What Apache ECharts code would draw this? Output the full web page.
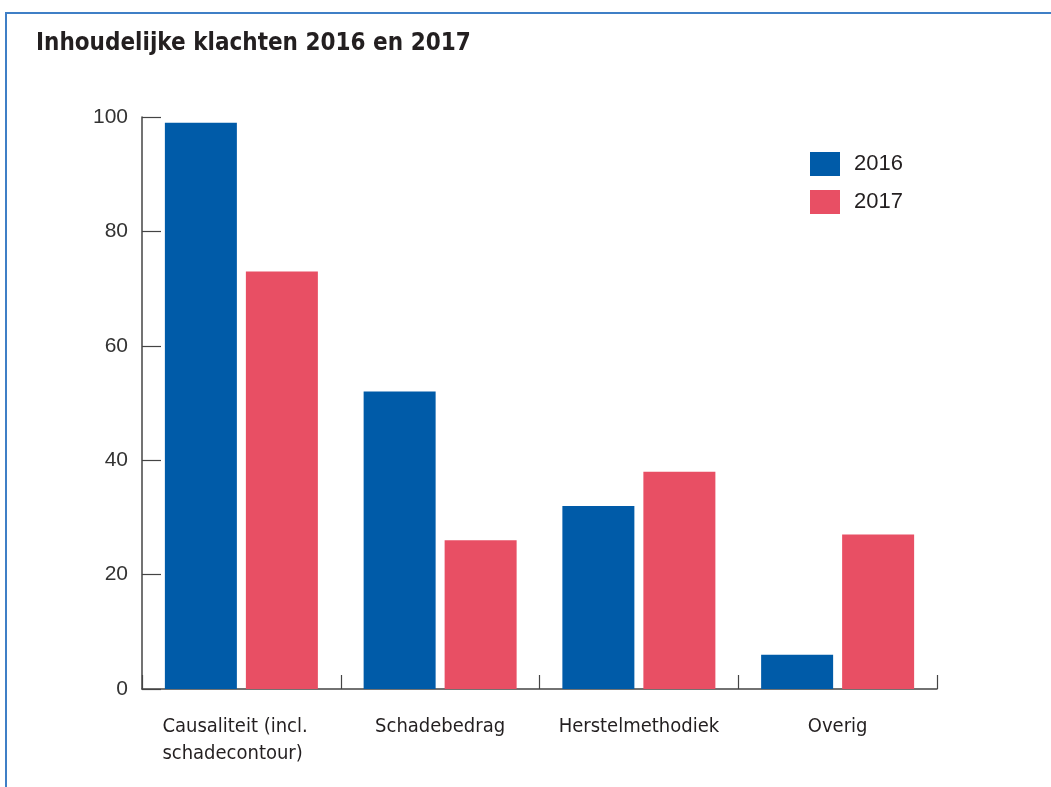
<!DOCTYPE html>
<html>
<head>
<meta charset="utf-8">
<script src="https://cdn.jsdelivr.net/npm/echarts@6/dist/echarts.min.js"></script>
<style>
  html, body { margin: 0; padding: 0; background: #fff; }
  #frame { position: absolute; left: 5px; top: 12px; width: 1200px; height: 900px; border-top: 2px solid #3f7fc6; border-left: 2px solid #3f7fc6; box-sizing: border-box; }
  #chart { position: absolute; left: 0; top: 0; width: 1051px; height: 787px; }
</style>
</head>
<body>
<div id="frame"></div>
<div id="chart"></div>
<script>
const titleText = 'Inhoudelijke klachten 2016 en 2017';
const categories = ['Causaliteit (incl.\nschadecontour)', 'Schadebedrag', 'Herstelmethodiek', 'Overig'];
const seriesNames = ['2016', '2017'];
const values2016 = [99, 52, 32, 6];
const values2017 = [73, 26, 38, 27];
const yTicks = [0, 20, 40, 60, 80, 100];

const chart = echarts.init(document.getElementById('chart'), null, { renderer: 'canvas' });
const condensed = '"Liberation Sans Narrow", "DejaVu Sans Condensed", "Arial Narrow", sans-serif';
const regular = '"Liberation Sans", Arial, sans-serif';
chart.setOption({
  backgroundColor: 'transparent',
  animation: false,
  title: {
    text: titleText,
    left: 31, top: 27,
    textStyle: { fontFamily: condensed, fontWeight: 'bold', fontSize: 24, color: '#231f20' }
  },
  legend: {
    data: seriesNames,
    orient: 'vertical',
    left: 810, top: 152, padding: 0,
    itemWidth: 30, itemHeight: 24, itemGap: 14,
    icon: 'rect',
    textStyle: { fontFamily: regular, fontSize: 22, color: '#231f20', padding: [0, 0, 0, 9] }
  },
  grid: { left: 142, right: 114, top: 117, bottom: 98, containLabel: false },
  xAxis: {
    type: 'category',
    data: categories,
    axisLine: { lineStyle: { color: '#444', width: 1.5 } },
    axisTick: { show: true, inside: true, length: 14, lineStyle: { color: '#444', width: 1.2 } },
    axisLabel: {
      fontFamily: condensed, fontSize: 20, color: '#231f20', margin: 24, lineHeight: 27, interval: 0,
      formatter: (v) => v.includes('\n') ? v.split('\n').map(s => '{l|' + s + '}').join('\n') : v,
      rich: { l: { fontFamily: condensed, fontSize: 20, color: '#231f20', lineHeight: 27, width: 158, align: 'left' } }
    }
  },
  yAxis: {
    type: 'value',
    min: 0, max: 100, interval: 20,
    axisLine: { show: true, lineStyle: { color: '#444', width: 1.5 } },
    axisTick: { show: true, inside: true, length: 19, lineStyle: { color: '#444', width: 1.2 } },
    splitLine: { show: false },
    axisLabel: { fontFamily: regular, fontSize: 21, color: '#333', margin: 14,
      formatter: v => yTicks.includes(v) ? String(v) : '' }
  },
  series: [
    { name: seriesNames[0], type: 'bar', data: values2016, barWidth: 72, barGap: '12.5%', itemStyle: { color: '#005ba8' } },
    { name: seriesNames[1], type: 'bar', data: values2017, barWidth: 72, barGap: '12.5%', itemStyle: { color: '#e84f64' } }
  ]
});
</script>
</body>
</html>
